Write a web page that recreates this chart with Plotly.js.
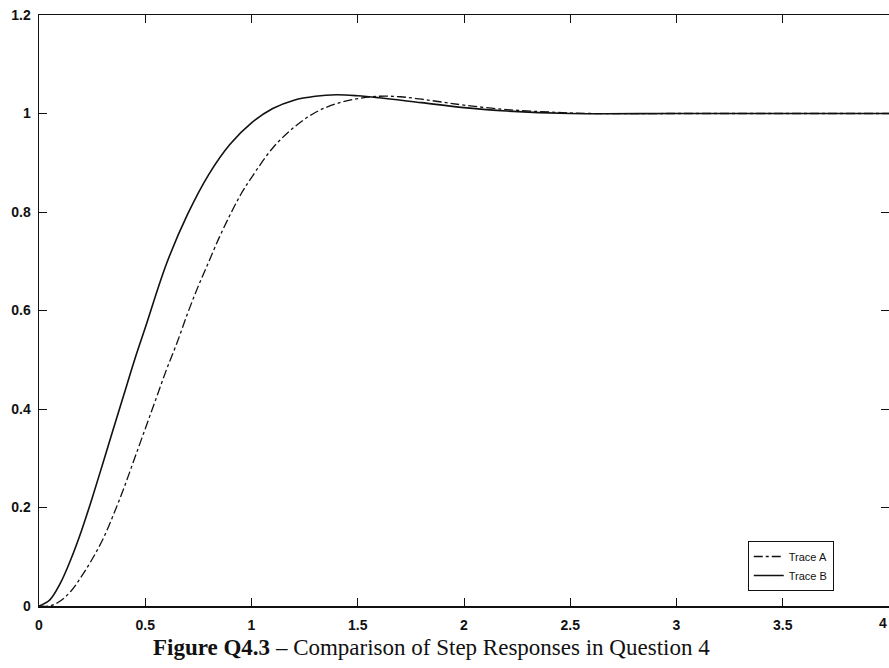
<!DOCTYPE html>
<html>
<head>
<meta charset="utf-8">
<script src="https://cdn.plot.ly/plotly-3.0.1.min.js"></script>
<style>html,body{margin:0;padding:0;background:#fff;}#chart{width:889px;height:668px;}</style>
</head>
<body>
<div id="chart"></div>
<script>
// Trace A (dash-dot)
const timeA = [0, 0.05, 0.1, 0.15, 0.2, 0.25, 0.3, 0.35, 0.4, 0.45, 0.5, 0.55, 0.6, 0.65, 0.7, 0.75, 0.8, 0.85, 0.9, 0.95, 1.0, 1.1, 1.2, 1.3, 1.4, 1.5, 1.6, 1.7, 1.8, 1.9, 2.0, 2.2, 2.4, 2.6, 3.0, 3.5, 4.0];
const traceA = [0, 0, 0.01, 0.03, 0.06, 0.095, 0.135, 0.185, 0.24, 0.30, 0.36, 0.42, 0.48, 0.535, 0.595, 0.65, 0.70, 0.75, 0.795, 0.836, 0.870, 0.930, 0.972, 1.002, 1.020, 1.030, 1.035, 1.034, 1.029, 1.023, 1.017, 1.008, 1.003, 1.0, 1.0, 1.0, 1.0];
// Trace B (solid)
const timeB = [0, 0.05, 0.1, 0.15, 0.2, 0.25, 0.3, 0.35, 0.4, 0.45, 0.5, 0.6, 0.7, 0.8, 0.9, 1.0, 1.1, 1.2, 1.3, 1.4, 1.5, 1.6, 1.8, 2.0, 2.2, 2.5, 3.0, 3.5, 4.0];
const traceB = [0, 0.012, 0.046, 0.095, 0.153, 0.219, 0.289, 0.36, 0.43, 0.50, 0.565, 0.695, 0.796, 0.877, 0.938, 0.981, 1.010, 1.027, 1.035, 1.038, 1.036, 1.032, 1.022, 1.012, 1.005, 1.0, 1.0, 1.0, 1.0];
const xTicks = [0, 0.5, 1, 1.5, 2, 2.5, 3, 3.5, 4];
const xTickText = ['0', '0.5', '1', '1.5', '2', '2.5', '3', '3.5', '4'];
const yTicks = [0, 0.2, 0.4, 0.6, 0.8, 1, 1.2];
const yTickText = ['0', '0.2', '0.4', '0.6', '0.8', '1', '1.2'];
const seriesNames = ['Trace A', 'Trace B'];
const caption = '<b>Figure Q4.3</b> – Comparison of Step Responses in Question 4';

const data = [
  {x: timeA, y: traceA, name: seriesNames[0], mode: 'lines', line: {color: '#111', width: 1.3, dash: 'dashdot', shape: 'spline'}},
  {x: timeB, y: traceB, name: seriesNames[1], mode: 'lines', line: {color: '#111', width: 1.6, shape: 'spline'}}
];
const tickFont = {family: 'Liberation Sans, Arial, sans-serif', size: 14, color: '#111', weight: 'bold'};
const layout = {
  width: 889, height: 668,
  margin: {l: 39, r: 0, t: 15, b: 62},
  paper_bgcolor: '#fff', plot_bgcolor: '#fff',
  showlegend: true,
  legend: {x: 0.935, y: 0.11, xanchor: 'right', yanchor: 'top', bgcolor: '#fff', bordercolor: '#111', borderwidth: 1,
    font: {family: 'Liberation Sans, Arial, sans-serif', size: 11, color: '#111'}, tracegroupgap: 0},
  xaxis: {range: [0, 4], tickvals: xTicks, ticktext: xTickText, ticks: 'inside', ticklen: 8, tickcolor: '#111',
    showline: true, linecolor: '#111', linewidth: 1.5, mirror: 'ticks', showgrid: false, zeroline: false,
    tickfont: tickFont, ticklabelstandoff: 6, fixedrange: true},
  yaxis: {range: [0, 1.2], tickvals: yTicks, ticktext: yTickText, ticks: 'inside', ticklen: 8, tickcolor: '#111',
    showline: true, linecolor: '#111', linewidth: 1.5, mirror: 'ticks', showgrid: false, zeroline: false,
    tickfont: tickFont, ticklabelstandoff: 4, fixedrange: true},
  annotations: [
    {text: xTickText[8], xref: 'x', yref: 'paper', x: xTicks[8], y: 0, yshift: -7, xanchor: 'right', yanchor: 'top', showarrow: false, font: tickFont},
    {text: caption, xref: 'paper', yref: 'paper', x: 0.462, y: -0.07, xanchor: 'center', yanchor: 'middle', showarrow: false,
    font: {family: 'Liberation Serif, Times New Roman, serif', size: 23, color: '#111'}}]
};
Plotly.newPlot('chart', data, layout, {displayModeBar: false, staticPlot: true});
</script>
</body>
</html>
